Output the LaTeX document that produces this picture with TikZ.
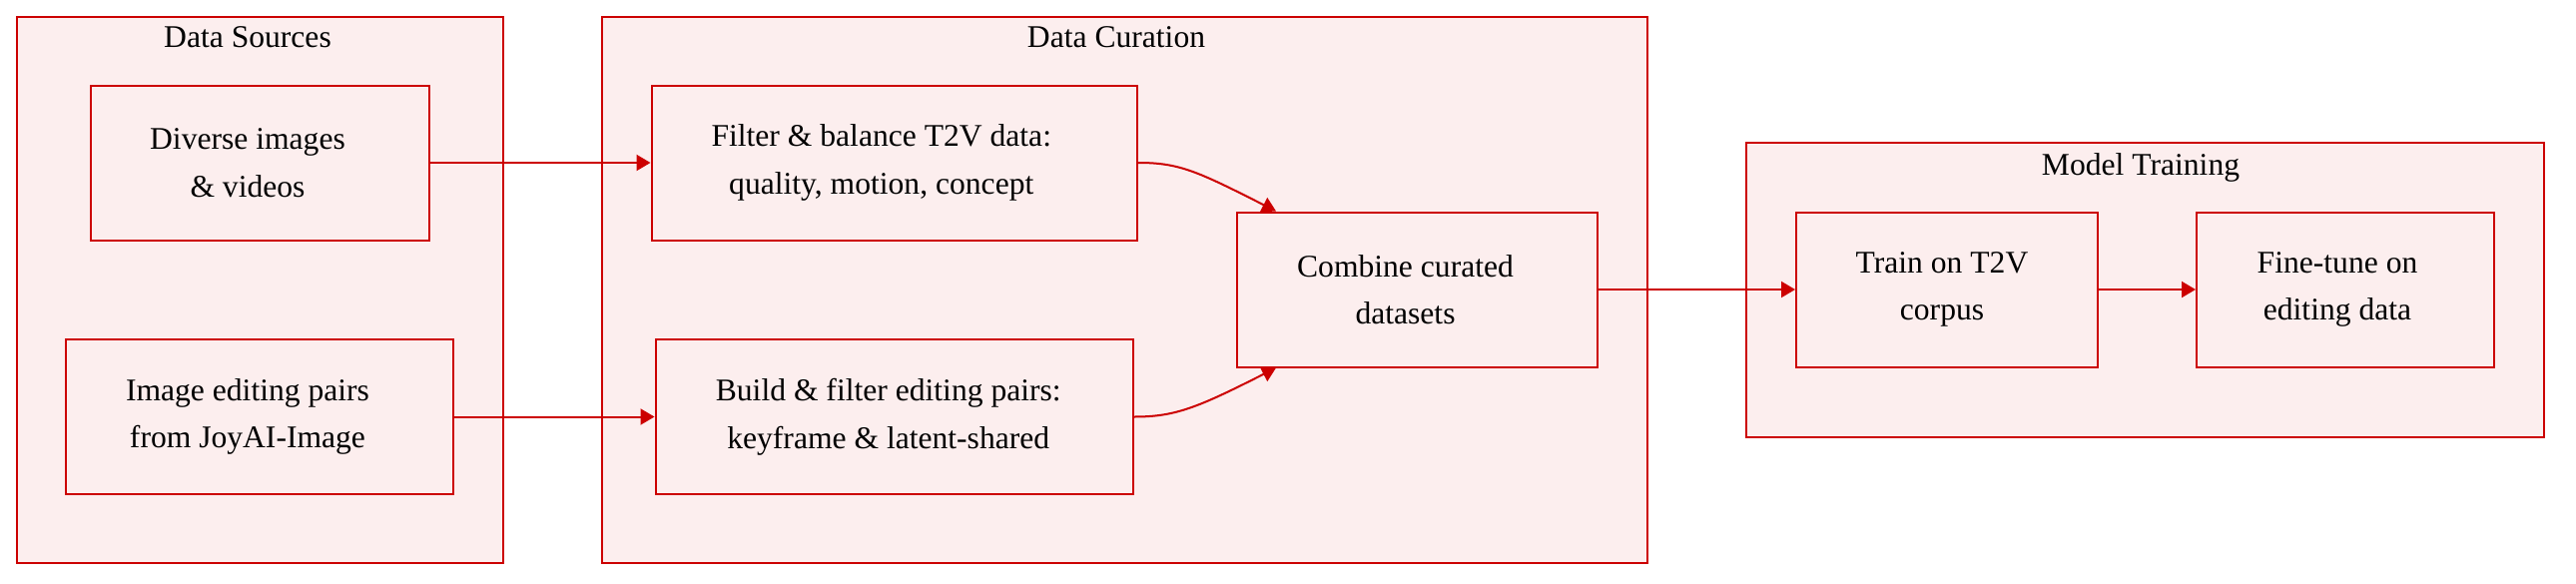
\documentclass[tikz,border=0pt]{standalone}
\usepackage{fontspec}
\setmainfont{Liberation Serif}
\usetikzlibrary{arrows.meta,calc}
\definecolor{stk}{RGB}{204,0,0}
\definecolor{pinkfill}{RGB}{252,238,238}
\begin{document}
\begin{tikzpicture}[x=0.5pt,y=-0.5pt,
  txt/.style={font=\fontsize{15.8}{23.8}\selectfont, text=black},
  cluster/.style={draw=stk, fill=pinkfill, line width=1pt, rectangle, inner sep=0pt},
  title/.style={txt, anchor=base, inner sep=0pt},
  stepbox/.style={draw=stk, fill=pinkfill, line width=1pt, rectangle, inner sep=0pt,
    minimum height=77.5pt},
  steptext/.style={txt, align=center, inner sep=0pt},
  arr/.style={draw=stk, line width=1pt, -{Triangle[length=7pt,width=8pt]}, color=stk}
]
\useasboundingbox (0,0) rectangle (2580,584);
% clusters
\node[cluster, minimum width=487*0.5pt, minimum height=547.5*0.5pt] (ds) at (260,290.25) {};
\node[cluster, minimum width=1047*0.5pt, minimum height=547.5*0.5pt] (dc) at (1126.5,290.25) {};
\node[cluster, minimum width=799*0.5pt, minimum height=295*0.5pt] (mt) at (2148.5,290.5) {};
\node[title] (tds) at (248,47.5) {Data Sources};
\node[title] (tdc) at (1118,47.5) {Data Curation};
\node[title] (tmt) at (2144,175) {Model Training};
% steps
\node[stepbox, minimum width=339*0.5pt] (div) at (260,163) {};
\node[stepbox, minimum width=388*0.5pt] (img) at (260,417.5) {};
\node[stepbox, minimum width=486.5*0.5pt] (filt) at (895.75,163) {};
\node[stepbox, minimum width=478.5*0.5pt] (build) at (895.75,417.5) {};
\node[stepbox, minimum width=361*0.5pt] (comb) at (1419.5,290) {};
\node[stepbox, minimum width=302*0.5pt] (train) at (1950,290) {};
\node[stepbox, minimum width=298*0.5pt] (fine) at (2349,290) {};
% step texts
\node[steptext] (divt) at ($(div)+(-12,0)$) {Diverse images\\\& videos};
\node[steptext] (imgt) at ($(img)+(-12,0)$) {Image editing pairs\\from JoyAI-Image};
\node[steptext] (filtt) at ($(filt)+(-13,0)$) {Filter \& balance T2V data:\\quality, motion, concept};
\node[steptext] (buildt) at ($(build)+(-6,0)$) {Build \& filter editing pairs:\\keyframe \& latent-shared};
\node[steptext] (combt) at ($(comb)+(-12,0)$) {Combine curated\\datasets};
\node[steptext] (traint) at ($(train)+(-5,0)$) {Train on T2V\\corpus};
\node[steptext] (finet) at ($(fine)+(-8,0)$) {Fine-tune on\\editing data};
% connector ends
\coordinate (combtop) at ([xshift=20pt]comb.north west);
\coordinate (combbot) at ([xshift=20pt]comb.south west);
% connectors
\draw[arr] (div.east) -- (filt.west);
\draw[arr] (img.east) -- (build.west);
\draw[arr] (filt.east) .. controls ($(filt.east)+(41,0)$) and ($(combtop)+(-79,-40)$) .. (combtop);
\draw[arr] (build.east) .. controls ($(build.east)+(41,0)$) and ($(combbot)+(-79,40)$) .. (combbot);
\draw[arr] (comb.east) -- (train.west);
\draw[arr] (train.east) -- (fine.west);
\end{tikzpicture}
\end{document}
